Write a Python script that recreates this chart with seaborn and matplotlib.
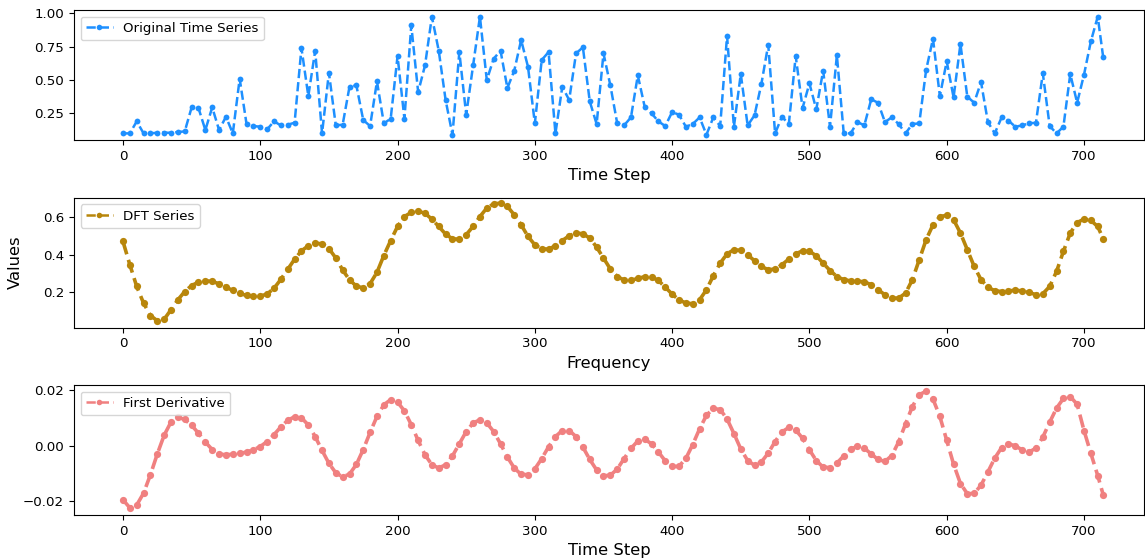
import matplotlib
matplotlib.use("Agg")
import matplotlib.pyplot as plt
import seaborn as sns

# Values, one every 5 time steps
steps = list(range(0, 711, 5)) + [714]

original_series = [
    0.10, 0.10, 0.19, 0.10, 0.10, 0.105, 0.105, 0.105, 0.11, 0.115,
    0.295, 0.29, 0.125, 0.295, 0.125, 0.225, 0.10, 0.51, 0.17, 0.155,
    0.15, 0.13, 0.19, 0.16, 0.165, 0.18, 0.74, 0.38, 0.72, 0.10,
    0.555, 0.16, 0.165, 0.45, 0.46, 0.20, 0.155, 0.49, 0.175, 0.21,
    0.68, 0.21, 0.91, 0.41, 0.61, 0.975, 0.72, 0.35, 0.09, 0.71,
    0.24, 0.61, 0.975, 0.50, 0.66, 0.72, 0.44, 0.57, 0.80, 0.60,
    0.175, 0.65, 0.71, 0.10, 0.45, 0.35, 0.70, 0.745, 0.34, 0.17,
    0.70, 0.46, 0.175, 0.16, 0.22, 0.535, 0.30, 0.25, 0.19, 0.155,
    0.26, 0.24, 0.15, 0.17, 0.22, 0.09, 0.22, 0.155, 0.83, 0.15,
    0.545, 0.16, 0.235, 0.47, 0.765, 0.10, 0.225, 0.17, 0.68, 0.29,
    0.475, 0.28, 0.57, 0.15, 0.685, 0.10, 0.10, 0.185, 0.16, 0.355,
    0.33, 0.185, 0.22, 0.17, 0.10, 0.17, 0.175, 0.575, 0.81, 0.38,
    0.64, 0.37, 0.77, 0.375, 0.33, 0.485, 0.185, 0.10, 0.22, 0.195,
    0.15, 0.16, 0.175, 0.18, 0.55, 0.155, 0.10, 0.15, 0.545, 0.33,
    0.54, 0.79, 0.975, 0.67,
]

dft_series = [
    0.470, 0.346, 0.230, 0.141, 0.075, 0.047, 0.055, 0.106, 0.159, 0.203,
    0.235, 0.253, 0.260, 0.257, 0.244, 0.226, 0.209, 0.193, 0.182, 0.177,
    0.178, 0.190, 0.220, 0.268, 0.322, 0.375, 0.420, 0.447, 0.460, 0.458,
    0.432, 0.382, 0.318, 0.265, 0.232, 0.222, 0.245, 0.305, 0.395, 0.475,
    0.550, 0.603, 0.625, 0.632, 0.620, 0.589, 0.550, 0.509, 0.484, 0.482,
    0.506, 0.550, 0.603, 0.648, 0.671, 0.674, 0.657, 0.612, 0.559, 0.497,
    0.452, 0.431, 0.429, 0.447, 0.475, 0.500, 0.515, 0.511, 0.488, 0.440,
    0.381, 0.323, 0.283, 0.264, 0.262, 0.273, 0.282, 0.280, 0.262, 0.226,
    0.189, 0.159, 0.141, 0.138, 0.159, 0.212, 0.287, 0.354, 0.404, 0.426,
    0.422, 0.399, 0.367, 0.337, 0.319, 0.323, 0.346, 0.376, 0.404, 0.420,
    0.417, 0.394, 0.354, 0.315, 0.283, 0.266, 0.260, 0.258, 0.255, 0.239,
    0.212, 0.186, 0.168, 0.168, 0.194, 0.266, 0.372, 0.479, 0.559, 0.603,
    0.609, 0.586, 0.515, 0.426, 0.337, 0.266, 0.226, 0.207, 0.203, 0.207,
    0.209, 0.207, 0.198, 0.186, 0.191, 0.230, 0.310, 0.417, 0.515, 0.571,
    0.589, 0.582, 0.550, 0.484,
]

first_derivative = [
    -0.0196, -0.0225, -0.0215, -0.0172, -0.0105, -0.0030, 0.0038, 0.0086, 0.0103, 0.0095,
    0.0074, 0.0045, 0.0013, -0.0014, -0.0030, -0.0033, -0.0031, -0.0028, -0.0023, -0.0015,
    -0.0003, 0.0015, 0.0040, 0.0068, 0.0092, 0.0105, 0.0101, 0.0075, 0.0033, -0.0017,
    -0.0064, -0.0098, -0.0113, -0.0103, -0.0068, -0.0014, 0.0048, 0.0106, 0.0148, 0.0167,
    0.0158, 0.0126, 0.0076, 0.0019, -0.0033, -0.0069, -0.0081, -0.0069, -0.0037, 0.0007,
    0.0051, 0.0082, 0.0094, 0.0083, 0.0051, 0.0007, -0.0041, -0.0081, -0.0104, -0.0105,
    -0.0084, -0.0047, -0.0004, 0.0033, 0.0055, 0.0055, 0.0033, -0.0005, -0.0050, -0.0088,
    -0.0109, -0.0107, -0.0085, -0.0047, -0.0010, 0.0017, 0.0023, 0.0007, -0.0023, -0.0055,
    -0.0075, -0.0075, -0.0046, 0.0004, 0.0061, 0.0110, 0.0135, 0.0131, 0.0097, 0.0044,
    -0.0012, -0.0054, -0.0071, -0.0059, -0.0027, 0.0015, 0.0050, 0.0066, 0.0057, 0.0027,
    -0.0015, -0.0054, -0.0078, -0.0079, -0.0063, -0.0037, -0.0013, -0.0002, -0.0009, -0.0030,
    -0.0050, -0.0057, -0.0036, 0.0014, 0.0079, 0.0142, 0.0185, 0.0197, 0.0169, 0.0106,
    0.0020, -0.0067, -0.0137, -0.0174, -0.0173, -0.0143, -0.0095, -0.0045, -0.0007, 0.0007,
    -0.0001, -0.0015, -0.0023, -0.0009, 0.0031, 0.0085, 0.0136, 0.0171, 0.0178, 0.0150,
    0.0055, -0.0028, -0.0108, -0.0178,
]

x_ticks = [0, 100, 200, 300, 400, 500, 600, 700]

# (values, legend label, colour, x label, y limits, y ticks, line width, marker size)
panels = [
    (original_series, "Original Time Series", "dodgerblue", "Time Step",
     (0.05, 1.025), [0.25, 0.50, 0.75, 1.00], 1.8, 4.2),
    (dft_series, "DFT Series", "darkgoldenrod", "Frequency",
     (0.011, 0.7045), [0.2, 0.4, 0.6], 2.6, 5.2),
    (first_derivative, "First Derivative", "lightcoral", "Time Step",
     (-0.0251, 0.022), [-0.02, 0.00, 0.02], 2.6, 5.2),
]

fig, axes = plt.subplots(3, 1, figsize=(11.45, 5.58), dpi=100)
fig.subplots_adjust(left=0.0646, right=0.999, top=0.982, bottom=0.0771, hspace=0.442)

for ax, (vals, label, color, xlabel, ylim, yticks, lw, ms) in zip(axes, panels):
    sns.lineplot(x=steps, y=vals, ax=ax, color=color, linestyle="--", linewidth=lw,
                 marker="o", markersize=ms, markeredgewidth=0, label=label)
    ax.set_xlim(-35.7, 743.6)
    ax.set_ylim(*ylim)
    ax.set_xticks(x_ticks)
    ax.set_yticks(yticks)
    ax.tick_params(labelsize=9.6)
    ax.set_xlabel(xlabel, fontsize=11.8)
    ax.set_ylabel("")
    leg = ax.legend(loc="upper left", fontsize=9.6)
    for line in leg.get_lines():
        line.set_linewidth(1.8)
        line.set_markersize(4)

axes[1].set_ylabel("Values", fontsize=11.8)
axes[1].yaxis.set_label_coords(-0.048, 0.5)

plt.savefig("out.png", dpi=100)
